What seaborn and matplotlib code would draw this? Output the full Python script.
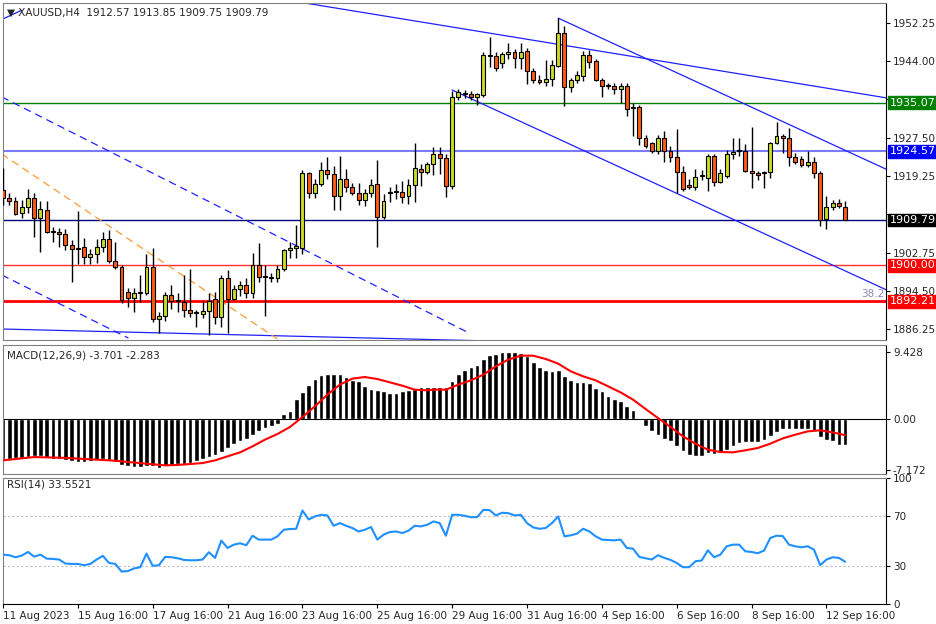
import matplotlib
matplotlib.use("Agg")
import matplotlib.pyplot as plt
import numpy as np
import pandas as pd
import seaborn as sns

# OHLC per H4 bar (index 0 = 11 Aug 2023)
opens = [1916.2, 1914.5, 1913.9, 1911.3, 1912.6, 1914.5, 1910.2, 1912.0, 1907.2, 1907.2,
         1906.8, 1904.4, 1903.5, 1903.9, 1901.8, 1902.4, 1903.9, 1905.6, 1900.9, 1899.6,
         1894.2, 1892.9, 1894.0, 1894.0, 1899.6, 1888.4, 1889.0, 1893.5, 1892.3, 1892.1,
         1890.3, 1889.7, 1889.5, 1890.2, 1892.7, 1888.8, 1897.2, 1892.7, 1894.9, 1895.8,
         1894.0, 1900.0, 1897.5, 1897.5, 1897.3, 1899.1, 1903.3, 1903.8, 1903.8, 1919.9,
         1915.6, 1917.6, 1920.6, 1919.7, 1915.0, 1918.6, 1916.9, 1915.6, 1914.1, 1915.6,
         1917.5, 1910.4, 1915.6, 1915.8, 1915.8, 1914.9, 1917.3, 1920.7, 1920.1, 1921.8,
         1924.0, 1923.1, 1917.1, 1936.3, 1936.9, 1936.9, 1936.2, 1936.7, 1945.1, 1945.1,
         1943.6, 1945.6, 1946.0, 1944.7, 1946.2, 1941.9, 1940.0, 1939.5, 1940.2, 1943.0,
         1950.1, 1938.4, 1939.9, 1940.8, 1945.3, 1944.1, 1940.0, 1938.7, 1938.7, 1938.0,
         1938.7, 1933.9, 1934.1, 1927.4, 1926.4, 1924.6, 1927.4, 1924.6, 1923.3, 1920.1,
         1917.3, 1916.9, 1919.2, 1918.8, 1923.5, 1918.0, 1919.2, 1924.0, 1924.6, 1924.6,
         1920.3, 1919.9, 1919.9, 1920.1, 1926.4, 1927.9, 1927.4, 1923.3, 1922.9, 1921.6,
         1922.3, 1919.9, 1909.9, 1912.6, 1913.4, 1912.57]
highs = [1921.0, 1915.6, 1914.7, 1914.1, 1916.4, 1915.6, 1913.9, 1913.9, 1908.2, 1908.0,
         1907.8, 1905.4, 1911.7, 1905.8, 1903.5, 1905.6, 1907.2, 1907.5, 1905.0, 1900.0,
         1895.1, 1895.0, 1897.9, 1902.4, 1903.7, 1890.0, 1894.2, 1895.7, 1894.0, 1897.8,
         1899.3, 1890.4, 1892.2, 1894.0, 1894.2, 1897.8, 1898.9, 1895.8, 1896.6, 1897.3,
         1902.6, 1904.8, 1900.0, 1898.3, 1900.0, 1903.5, 1905.0, 1908.7, 1920.5, 1920.1,
         1918.5, 1922.2, 1923.3, 1921.5, 1923.5, 1920.8, 1917.8, 1917.8, 1916.4, 1918.6,
         1922.7, 1915.4, 1916.9, 1917.6, 1918.2, 1918.6, 1926.4, 1921.8, 1922.3, 1925.5,
         1925.5, 1924.0, 1937.6, 1938.0, 1937.8, 1937.6, 1937.1, 1946.0, 1949.2, 1945.9,
         1946.0, 1947.9, 1946.6, 1947.9, 1946.8, 1942.5, 1941.0, 1944.3, 1944.3, 1953.3,
         1951.6, 1940.4, 1941.9, 1946.2, 1946.4, 1944.5, 1940.4, 1939.2, 1939.2, 1939.2,
         1939.4, 1935.0, 1934.5, 1928.1, 1926.6, 1928.1, 1929.0, 1925.7, 1929.4, 1921.5,
         1918.5, 1920.8, 1920.5, 1924.0, 1924.0, 1920.7, 1924.9, 1927.4, 1927.4, 1926.2,
         1929.8, 1920.3, 1920.3, 1926.6, 1930.9, 1928.3, 1929.6, 1924.2, 1923.6, 1924.6,
         1923.3, 1920.3, 1915.0, 1914.1, 1914.3, 1913.85]
lows = [1913.0, 1913.0, 1910.8, 1910.2, 1911.3, 1906.1, 1902.9, 1907.0, 1905.0, 1904.0,
        1903.3, 1896.4, 1900.3, 1900.3, 1900.3, 1900.5, 1902.9, 1900.5, 1899.3, 1891.9,
        1891.0, 1889.9, 1892.0, 1893.5, 1887.7, 1885.4, 1887.9, 1890.6, 1890.0, 1888.8,
        1888.8, 1886.7, 1888.6, 1885.0, 1887.4, 1886.7, 1885.4, 1892.5, 1893.4, 1893.0,
        1893.0, 1896.4, 1889.0, 1896.4, 1896.4, 1898.8, 1901.5, 1901.6, 1902.5, 1914.6,
        1914.6, 1917.0, 1918.6, 1911.9, 1911.9, 1915.9, 1915.1, 1912.9, 1912.7, 1914.8,
        1904.0, 1909.9, 1913.6, 1914.3, 1913.4, 1913.2, 1913.6, 1917.1, 1919.6, 1919.4,
        1919.6, 1914.7, 1916.5, 1935.6, 1936.1, 1935.6, 1934.5, 1936.2, 1942.8, 1941.9,
        1942.5, 1944.5, 1942.5, 1942.3, 1939.0, 1939.2, 1939.0, 1938.6, 1938.6, 1942.8,
        1934.3, 1937.4, 1939.4, 1939.7, 1942.5, 1939.7, 1936.3, 1938.0, 1936.9, 1935.0,
        1932.2, 1927.9, 1925.9, 1925.3, 1924.2, 1923.9, 1922.2, 1922.2, 1915.6, 1916.1,
        1916.5, 1916.2, 1918.3, 1916.1, 1917.1, 1917.8, 1918.8, 1922.9, 1923.6, 1920.1,
        1916.6, 1918.3, 1916.6, 1918.8, 1926.2, 1924.3, 1921.5, 1921.8, 1921.2, 1921.1,
        1918.8, 1908.5, 1907.8, 1911.9, 1912.3, 1909.75]
closes = [1914.5, 1913.85, 1911.0, 1912.6, 1914.5, 1910.2, 1912.2, 1907.2, 1907.2, 1906.8,
          1904.4, 1903.5, 1903.7, 1901.8, 1902.4, 1903.9, 1905.6, 1900.9, 1899.6, 1892.5,
          1892.9, 1894.0, 1894.0, 1899.6, 1888.4, 1889.0, 1893.5, 1892.3, 1892.3, 1890.3,
          1889.7, 1889.7, 1890.2, 1892.3, 1888.8, 1897.2, 1892.7, 1894.9, 1895.8, 1894.0,
          1900.0, 1897.5, 1897.5, 1897.3, 1899.1, 1903.3, 1903.8, 1903.8, 1919.9, 1915.6,
          1917.6, 1920.6, 1919.7, 1915.0, 1918.6, 1916.9, 1915.6, 1914.1, 1915.6, 1917.3,
          1910.4, 1913.9, 1915.8, 1915.8, 1914.7, 1917.3, 1920.9, 1920.1, 1921.8, 1924.0,
          1923.1, 1917.1, 1936.3, 1937.3, 1936.9, 1936.3, 1936.9, 1945.3, 1945.1, 1942.5,
          1945.6, 1946.0, 1944.7, 1946.0, 1941.9, 1940.0, 1939.5, 1940.2, 1943.2, 1950.1,
          1938.4, 1939.9, 1941.0, 1945.3, 1943.8, 1940.0, 1938.7, 1938.7, 1938.0, 1938.7,
          1933.7, 1933.9, 1927.4, 1925.7, 1924.6, 1927.4, 1924.6, 1923.3, 1920.1, 1916.4,
          1916.9, 1919.0, 1919.2, 1923.5, 1918.0, 1919.9, 1924.0, 1924.4, 1924.6, 1920.3,
          1919.9, 1919.5, 1920.1, 1926.4, 1927.9, 1927.4, 1923.3, 1922.3, 1921.6, 1922.3,
          1919.9, 1909.8, 1912.6, 1913.4, 1912.8, 1909.79]

macd_hist = [-5.66, -5.66, -5.5, -5.5, -5.4, -5.3, -5.3, -5.45, -5.6, -5.66,
             -5.85, -6.0, -6.1, -6.1, -6.0, -5.75, -5.66, -5.75, -6.1, -6.45,
             -6.7, -6.85, -6.85, -6.6, -6.7, -6.95, -6.6, -6.45, -6.3, -6.3,
             -6.2, -6.0, -5.66, -5.4, -5.05, -4.6, -4.1, -3.6, -3.15, -2.8,
             -2.2, -1.75, -1.3, -1.05, -0.65, 0.75, 1.2, 2.8, 3.8, 4.85,
             5.65, 6.25, 6.35, 6.4, 6.35, 5.95, 5.55, 5.4, 4.6, 4.25,
             4.15, 3.9, 3.75, 3.75, 3.9, 4.15, 4.25, 4.5, 4.5, 4.48,
             4.53, 4.48, 5.33, 6.42, 6.98, 7.36, 7.69, 8.49, 9.06, 9.25,
             9.43, 9.53, 9.48, 9.34, 8.96, 8.07, 7.36, 6.89, 6.75, 6.98,
             6.13, 5.57, 5.19, 5.19, 5.09, 4.39, 3.92, 3.3, 2.83, 2.5,
             1.79, 1.23, 0.05, -0.94, -1.75, -2.22, -2.78, -3.16, -3.87, -4.58,
             -5.05, -5.19, -5.28, -4.81, -4.95, -4.72, -4.34, -3.87, -3.4, -3.3,
             -3.3, -3.3, -2.92, -2.45, -1.89, -1.42, -1.42, -1.42, -1.42, -1.42,
             -1.75, -2.55, -3.02, -3.16, -3.63, -3.701]
signal_idx = [0, 5, 10, 15, 18, 20, 23, 26, 28, 30, 32, 34, 36, 38, 40, 42, 44, 46, 48,
              50, 52, 54, 56, 58, 60, 62, 64, 66, 68, 69, 71, 73, 75, 77, 79, 81, 83,
              85, 87, 89, 91, 93, 95, 97, 99, 101, 103, 105, 107, 109, 111, 113, 115,
              117, 119, 121, 123, 125, 127, 129, 131, 133, 135]
signal_vals = [-5.85, -5.38, -5.5, -5.75, -5.9, -6.08, -6.32, -6.56, -6.5, -6.37, -6.23,
               -5.85, -5.28, -4.72, -3.87, -2.92, -2.12, -1.13, 0.28, 1.79, 3.44, 4.86,
               5.71, 5.94, 5.66, 5.19, 4.72, 4.15, 4.06, 4.15, 4.15, 4.86, 5.47, 6.27,
               7.45, 8.4, 8.96, 8.96, 8.49, 7.83, 6.75, 6.04, 5.47, 4.62, 3.77, 2.74,
               1.42, 0.14, -1.13, -2.45, -3.49, -4.34, -4.67, -4.72, -4.43, -4.1, -3.49,
               -2.74, -2.22, -1.75, -1.6, -1.89, -2.283]

rsi = [39.2, 38.7, 37.1, 38.4, 41.3, 37.6, 39.2, 36.0, 35.8, 35.3,
       32.1, 31.8, 31.8, 30.8, 31.8, 35.3, 38.2, 32.6, 31.8, 25.8,
       26.1, 28.2, 29.2, 40.0, 30.3, 30.8, 37.4, 37.1, 36.3, 35.0,
       34.7, 34.7, 35.3, 41.1, 36.6, 50.3, 44.5, 47.1, 48.2, 46.6,
       54.2, 51.1, 51.1, 51.1, 53.7, 58.9, 59.5, 59.7, 74.2, 67.1,
       69.5, 70.8, 70.3, 62.1, 64.2, 62.1, 60.3, 57.6, 58.9, 61.1,
       51.1, 55.0, 57.1, 57.6, 56.3, 58.2, 62.1, 61.6, 62.9, 65.5,
       64.2, 54.2, 70.8, 70.8, 70.0, 68.9, 68.9, 74.7, 74.5, 70.3,
       72.4, 72.1, 70.3, 70.8, 64.2, 60.8, 59.7, 60.3, 64.2, 69.5,
       53.7, 54.5, 55.8, 59.7, 57.6, 53.7, 51.1, 50.8, 50.5, 51.1,
       44.5, 43.9, 37.4, 36.3, 35.3, 38.7, 36.6, 35.0, 32.6, 29.2,
       29.2, 33.9, 34.5, 42.6, 37.1, 39.2, 45.8, 47.1, 47.1, 41.8,
       41.3, 40.3, 42.4, 52.4, 54.2, 53.9, 47.1, 45.8, 45.0, 45.8,
       43.2, 30.8, 35.3, 37.1, 36.6, 33.55]

tick_idx = [0, 12, 24, 36, 48, 60, 72, 84, 96, 108, 120, 132]
tick_labels = ["11 Aug 2023", "15 Aug 16:00", "17 Aug 16:00", "21 Aug 16:00",
               "23 Aug 16:00", "25 Aug 16:00", "29 Aug 16:00", "31 Aug 16:00",
               "4 Sep 16:00", "6 Sep 16:00", "8 Sep 16:00", "12 Sep 16:00"]

price_ticks = [1952.25, 1944.00, 1935.75, 1927.50, 1919.25, 1911.00, 1902.75, 1894.50, 1886.25]
# 1935.75 and 1911.00 sit under the level boxes, so their labels stay hidden
price_tick_labels = ["1952.25", "1944.00", "", "1927.50", "1919.25", "", "1902.75", "1894.50", "1886.25"]
levels = [1935.07, 1924.57, 1909.79, 1900.00, 1892.21]
level_colors = ["#008000", "#7b7bff", "#000080", "#ff3030", "#ff0000"]
level_boxes = ["#008000", "#0000ff", "#000000", "#ff0000", "#ff0000"]
level_widths = [1.0, 1.5, 1.0, 1.0, 2.0]

# trendlines: (x0, y0, x1, y1, color, style)
trendlines = [
    (47.3, 1956.8, 141.6, 1936.1, "#2020ff", "-"),
    (89.0, 1953.3, 141.6, 1920.7, "#2020ff", "-"),
    (72.0, 1937.8, 141.6, 1894.7, "#2020ff", "-"),
    (-0.2, 1936.3, 74.4, 1885.6, "#2020ff", "--"),
    (-0.2, 1897.9, 20.1, 1884.3, "#2020ff", "--"),
    (-0.2, 1886.25, 77.0, 1883.7, "#2020ff", "-"),
    (-0.2, 1924.0, 44.0, 1884.1, "#ff9a30", "--"),
    (-0.2, 1953.0, 3.0, 1955.0, "#2020ff", "-"),
]

sns.set_style("white")
plt.rcParams["font.family"] = ["DejaVu Sans"]
FS = 7.5
W, H = 936, 624
fig = plt.figure(figsize=(W / 100, H / 100), dpi=100)


def panel(top, bottom):
    return fig.add_axes([3 / W, (H - bottom) / H, 883 / W, (bottom - top) / H])


ax = panel(3, 340)
ax_m = panel(345, 474)
ax_r = panel(478, 604)
x_lim = (0.0, 141.55)
idx = np.arange(len(closes))

# price panel
df = pd.DataFrame({"o": opens, "h": highs, "l": lows, "c": closes}, index=idx)
ax.vlines(idx, df["l"], df["h"], color="black", lw=1, zorder=3)
up = df["c"] >= df["o"]
body_lo = df[["o", "c"]].min(axis=1)
body_h = (df["c"] - df["o"]).abs().clip(lower=0.25)
ax.bar(idx[up], body_h[up], bottom=body_lo[up], width=0.62, color="#c8dc28",
       edgecolor="black", lw=0.8, zorder=4)
ax.bar(idx[~up], body_h[~up], bottom=body_lo[~up], width=0.62, color="#ff5a14",
       edgecolor="black", lw=0.8, zorder=4)
for lv, lc, lw in zip(levels, level_colors, level_widths):
    ax.axhline(lv, color=lc, lw=lw, zorder=2)
for x0, y0, x1, y1, c, ls in trendlines:
    ax.plot([x0, x1], [y0, y1], color=c, lw=0.9, ls=ls, dashes=(6, 4) if ls == "--" else (None, None), zorder=2)
ax.set_xlim(*x_lim)
ax.set_ylim(1883.88, 1956.56)
ax.yaxis.tick_right()
ax.set_yticks(price_ticks)
ax.set_yticklabels(price_tick_labels)
ax.text(1.0 - 0.002, 1892.21 + 0.6, "38.2", transform=ax.get_yaxis_transform(),
        ha="right", va="bottom", fontsize=FS, color="#8a8ab8")
for lv, bc in zip(levels, level_boxes):
    ax.text(1.004, lv, f"{lv:.2f}", transform=ax.get_yaxis_transform(), ha="left",
            va="center", fontsize=FS + 0.5, color="white", zorder=10, clip_on=False,
            bbox=dict(boxstyle="square,pad=0.12", fc=bc, ec=bc))
ax.text(0.004, 0.985, "\u25bc XAUUSD,H4  1912.57 1913.85 1909.75 1909.79",
        transform=ax.transAxes, ha="left", va="top", fontsize=FS)

# MACD panel
ax_m.bar(idx, macd_hist, width=0.75, color="black", zorder=2)
ax_m.axhline(0, color="black", lw=0.8)
sns.lineplot(x=signal_idx, y=signal_vals, ax=ax_m, color="red", lw=1.5, zorder=3)
ax_m.set_xlim(*x_lim)
ax_m.set_ylim(-7.78, 10.47)
ax_m.yaxis.tick_right()
ax_m.set_yticks([9.428, 0.0, -7.172])
ax_m.set_yticklabels(["9.428", "0.00", "-7.172"])
ax_m.text(0.004, 0.96, "MACD(12,26,9) -3.701 -2.283", transform=ax_m.transAxes,
          ha="left", va="top", fontsize=FS)

# RSI panel
sns.lineplot(x=idx, y=rsi, ax=ax_r, color="#1e90ff", lw=1.5, zorder=3)
for lv in (70, 30):
    ax_r.axhline(lv, color="#c0c0c0", lw=0.8, ls=(0, (2, 2)))
ax_r.set_xlim(*x_lim)
ax_r.set_ylim(0, 100)
ax_r.yaxis.tick_right()
ax_r.set_yticks([100, 70, 30, 0])
ax_r.text(0.004, 0.99, "RSI(14) 33.5521", transform=ax_r.transAxes,
          ha="left", va="top", fontsize=FS)
ax_r.set_xticks(tick_idx)
ax_r.set_xticklabels(tick_labels, ha="left")

for a in (ax, ax_m, ax_r):
    a.set_xlabel("")
    a.set_ylabel("")
    a.grid(False)
    for s in a.spines.values():
        s.set_color("#808080")
        s.set_linewidth(0.8)
    a.spines["right"].set_color("black")
    a.tick_params(axis="y", right=True, length=3, width=0.8, labelsize=FS, pad=2,
                  direction="out", color="black")
    if a is not ax_r:
        a.set_xticks([])
ax_r.spines["bottom"].set_color("black")
ax_r.tick_params(axis="x", bottom=True, length=3, width=0.8, labelsize=FS, pad=2,
                 direction="out", color="black")

fig.savefig("out.png", dpi=100, facecolor="white")
